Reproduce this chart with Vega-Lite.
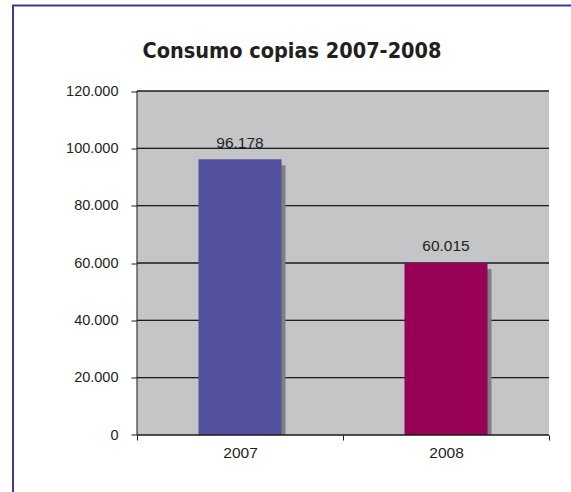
{
  "$schema": "https://vega.github.io/schema/vega-lite/v6.json",
  "autosize": "none",
  "padding": {"left": 13, "top": 5.5, "right": 0, "bottom": 0},
  "width": 560,
  "height": 488,
  "background": "white",
  "title": {
    "text": "Consumo copias 2007-2008",
    "font": "DejaVu Sans Condensed",
    "fontSize": 21.5,
    "fontWeight": "bold",
    "color": "#231f20",
    "anchor": "middle",
    "frame": "group",
    "baseline": "alphabetic",
    "dx": -1,
    "offset": -74
  },
  "config": {
    "view": {"stroke": "#3a3a90", "strokeWidth": 2, "fill": "white"},
    "locale": {"number": {"decimal": ",", "thousands": ".", "grouping": [3], "currency": ["", " €"]}}
  },
  "datasets": {
    "bars": [
      {"year": "2007", "value": 96178},
      {"year": "2008", "value": 60015}
    ],
    "grid": [
      {"year": "2007", "v": 20000}, {"year": "2008", "v": 20000},
      {"year": "2007", "v": 40000}, {"year": "2008", "v": 40000},
      {"year": "2007", "v": 60000}, {"year": "2008", "v": 60000},
      {"year": "2007", "v": 80000}, {"year": "2008", "v": 80000},
      {"year": "2007", "v": 100000}, {"year": "2008", "v": 100000},
      {"year": "2007", "v": 120000}, {"year": "2008", "v": 120000}
    ],
    "cats": [{"year": "2007"}, {"year": "2008"}]
  },
  "layer": [
    {
      "data": {"name": "cats"},
      "mark": {"type": "rect", "fill": "#c4c5c7"},
      "encoding": {
        "x": {
          "field": "year", "type": "nominal",
          "scale": {"type": "band", "domain": ["2007", "2008"], "paddingInner": 0, "paddingOuter": 0.359223, "align": 0.837838},
          "axis": {
            "orient": "bottom", "offset": -58.5, "domain": false, "tickBand": "extent",
            "tickSize": 5, "tickColor": "#1a1a1a", "labelAngle": 0,
            "labelFont": "Liberation Sans", "labelFontSize": 15.5, "labelPadding": 5,
            "labelColor": "#231f20", "title": null, "grid": false
          }
        },
        "y": {
          "datum": 0, "type": "quantitative",
          "scale": {"domain": [-20406.98, 149825.6], "nice": false, "zero": false},
          "axis": {
            "values": [0, 20000, 40000, 60000, 80000, 100000, 120000],
            "format": ",d", "offset": -124, "domain": false, "grid": false,
            "tickSize": 6, "tickColor": "#1a1a1a",
            "labelFont": "Liberation Sans", "labelFontSize": 14.5, "labelPadding": 13,
            "labelColor": "#231f20", "title": null
          }
        },
        "y2": {"datum": 120000}
      }
    },
    {
      "data": {"name": "grid"},
      "mark": {"type": "rect", "fillOpacity": 0, "stroke": "#1a1a1a", "strokeWidth": 1},
      "encoding": {
        "x": {"field": "year", "type": "nominal"},
        "y": {"field": "v", "type": "quantitative"},
        "y2": {"field": "v"}
      }
    },
    {
      "data": {"values": [{"year": "2007"}]},
      "mark": {"type": "rule", "color": "#1a1a1a", "strokeWidth": 1},
      "encoding": {
        "x": {"field": "year", "type": "nominal", "bandPosition": 0},
        "y": {"datum": 0, "type": "quantitative"},
        "y2": {"datum": 120000}
      }
    },
    {
      "data": {"name": "bars"},
      "mark": {"type": "bar", "width": {"band": 0.403}, "color": "#808080", "xOffset": 4, "yOffset": 6, "y2Offset": 0},
      "encoding": {
        "x": {"field": "year", "type": "nominal"},
        "y": {"field": "value", "type": "quantitative"},
        "y2": {"datum": 0}
      }
    },
    {
      "data": {"name": "bars"},
      "mark": {"type": "bar", "width": {"band": 0.403}},
      "encoding": {
        "x": {"field": "year", "type": "nominal"},
        "y": {"field": "value", "type": "quantitative"},
        "color": {
          "field": "year", "type": "nominal",
          "scale": {"domain": ["2007", "2008"], "range": ["#52509f", "#990057"]},
          "legend": null
        }
      }
    },
    {
      "data": {"name": "cats"},
      "mark": {"type": "rect", "fillOpacity": 0, "stroke": "#1a1a1a", "strokeWidth": 1},
      "encoding": {
        "x": {"field": "year", "type": "nominal"},
        "y": {"datum": 0, "type": "quantitative"},
        "y2": {"datum": 0}
      }
    },
    {
      "data": {"name": "bars"},
      "mark": {"type": "text", "font": "Liberation Sans", "fontSize": 15.5, "color": "#231f20", "baseline": "alphabetic", "dy": -11.5},
      "encoding": {
        "x": {"field": "year", "type": "nominal"},
        "y": {"field": "value", "type": "quantitative"},
        "text": {"field": "value", "type": "quantitative", "format": ",d"}
      }
    }
  ]
}
